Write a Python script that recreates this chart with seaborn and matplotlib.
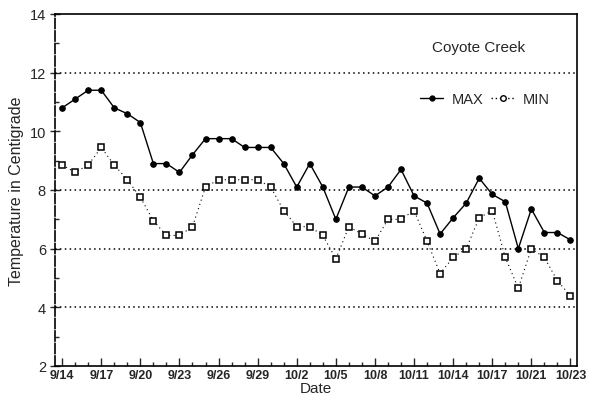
import matplotlib
matplotlib.use("Agg")
import matplotlib.pyplot as plt
from matplotlib.lines import Line2D
import numpy as np
import pandas as pd
import seaborn as sns

# Daily stream temperatures, 9/14 through 10/23
days = list(range(40))
max_temp = [10.8, 11.1, 11.4, 11.4, 10.8, 10.6, 10.3, 8.9, 8.9, 8.6,
            9.2, 9.75, 9.75, 9.75, 9.45, 9.45, 9.45, 8.9, 8.1, 8.9,
            8.1, 7.0, 8.1, 8.1, 7.8, 8.1, 8.7, 7.8, 7.55, 6.5,
            7.05, 7.55, 8.4, 7.85, 7.6, 6.0, 7.35, 6.55, 6.55, 6.3]
min_temp = [8.85, 8.6, 8.85, 9.45, 8.85, 8.35, 7.75, 6.95, 6.45, 6.45,
            6.75, 8.1, 8.35, 8.35, 8.35, 8.35, 8.1, 7.3, 6.75, 6.75,
            6.45, 5.65, 6.75, 6.5, 6.25, 7.0, 7.0, 7.3, 6.25, 5.15,
            5.7, 6.0, 7.05, 7.3, 5.7, 4.65, 6.0, 5.7, 4.9, 4.4]
tick_days = [0, 3, 6, 9, 12, 15, 18, 21, 24, 27, 30, 33, 36, 39]
tick_labels = ["9/14", "9/17", "9/20", "9/23", "9/26", "9/29", "10/2",
               "10/5", "10/8", "10/11", "10/14", "10/17", "10/21", "10/23"]
grid_levels = [4, 6, 8, 12]

df = pd.DataFrame({"day": days, "MAX": max_temp, "MIN": min_temp})

sns.set_theme(style="white")
plt.rcParams["font.family"] = ["Liberation Sans", "DejaVu Sans"]
narrow = ["Liberation Sans Narrow", "Liberation Sans"]

fig = plt.figure(figsize=(5.9, 4.06), dpi=100)
ax = fig.add_axes([0.0932, 0.0961, 0.8847, 0.867])

for lv in grid_levels:
    ax.axhline(lv, color="black", linestyle=(0, (1, 2.2)), linewidth=1.1, zorder=1)

sns.lineplot(data=df, x="day", y="MAX", ax=ax, color="black", linewidth=1.0,
             marker="o", markersize=4, markeredgecolor="black",
             markerfacecolor="black", zorder=3, legend=False)
sns.lineplot(data=df, x="day", y="MIN", ax=ax, color="black", linewidth=0.8,
             linestyle=(0, (1, 3)), marker="s", markersize=5,
             markerfacecolor="white", markeredgecolor="black",
             markeredgewidth=1.1, zorder=3, legend=False)

ax.set_xlim(-0.55, 39.5)
ax.set_ylim(2, 14)
ax.set_yticks(range(2, 15, 2))
ax.set_yticks(range(3, 14, 2), minor=True)
ax.set_xticks(tick_days)
ax.set_xticklabels(tick_labels, fontsize=9, fontweight="bold")
ax.set_xticks(days, minor=True)
ax.tick_params(axis="y", which="major", direction="inout", length=7,
               width=1, labelsize=10.5, pad=3, left=True)
ax.tick_params(axis="y", which="minor", direction="in", length=3, width=1, left=True)
ax.tick_params(axis="x", which="major", direction="in", length=6, width=1,
               pad=2, bottom=True)
ax.tick_params(axis="x", which="minor", direction="in", length=3, width=1, bottom=True)

for side in ["left", "right", "top", "bottom"]:
    ax.spines[side].set_visible(True)
    ax.spines[side].set_color("black")
    ax.spines[side].set_linewidth(1.2)
ax.spines["left"].set_linestyle((0, (6, 1.5)))

ax.set_xlabel("Date", fontsize=11, labelpad=0)
ax.set_ylabel("Temperature in Centigrade", fontsize=11.5, labelpad=4)

ax.text(0.90, 0.905, "Coyote Creek", transform=ax.transAxes, ha="right",
        va="center", fontsize=11, family=narrow)

handles = [
    Line2D([], [], color="black", linewidth=1.0, marker="o", markersize=3.5,
           markerfacecolor="black"),
    Line2D([], [], color="black", linewidth=1.0, linestyle=(0, (1, 2)),
           marker="o", markersize=4, markerfacecolor="white",
           markeredgewidth=1.0),
]
ax.legend(handles, ["MAX", "MIN"], loc="center left",
          bbox_to_anchor=(0.699, 0.7585), frameon=False, ncol=2,
          prop={"family": narrow, "size": 10.5}, handlelength=1.6,
          handletextpad=0.6, columnspacing=0.5, borderpad=0, borderaxespad=0)

fig.savefig("out.png", dpi=100, facecolor="white")
